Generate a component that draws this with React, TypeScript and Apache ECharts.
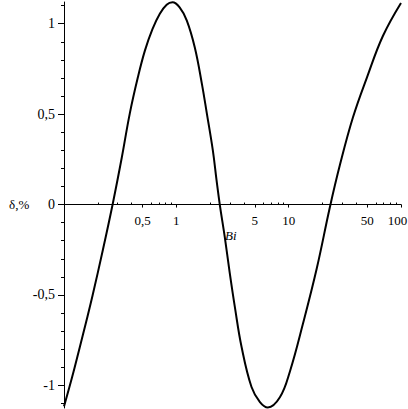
import React, { useEffect, useRef } from "react";
import * as echarts from "echarts";

// curve samples (Bi, δ %)
const biValues = [0.1, 0.118, 0.138, 0.158, 0.18, 0.222, 0.272, 0.327, 0.385, 0.454, 0.525, 0.613, 0.713, 0.82, 0.925, 1.07, 1.24, 1.462, 1.687, 1.87, 2.115, 2.28, 2.44, 2.7, 2.99, 3.32, 3.81, 4.67, 5.55, 6.53, 8.351, 10.26, 13.38, 17.82, 23.27, 28.57, 37.31, 49.71, 68.98, 100];
const deltaValues = [-1.116, -0.955, -0.79, -0.645, -0.5, -0.25, 0.006, 0.26, 0.503, 0.702, 0.851, 0.97, 1.055, 1.105, 1.118, 1.09, 1.017, 0.867, 0.669, 0.503, 0.298, 0.135, -0.003, -0.18, -0.379, -0.567, -0.788, -1.009, -1.092, -1.122, -1.066, -0.923, -0.661, -0.351, -0.015, 0.218, 0.481, 0.702, 0.932, 1.115];

const xTickValues = [0.5, 1, 5, 10, 50, 100];
const xMinorTicks = [0.2, 0.3, 0.4, 0.6, 0.7, 0.8, 0.9, 2, 3, 4, 6, 7, 8, 9, 20, 30, 40, 60, 70, 80, 90];
const yTickValues = [-1, -0.5, 0, 0.5, 1];
const yMinorTicks = [-1.1, -0.9, -0.8, -0.7, -0.6, -0.4, -0.3, -0.2, -0.1, 0.1, 0.2, 0.3, 0.4, 0.6, 0.7, 0.8, 0.9, 1.1];

const Y_MIN = -1.125;
const Y_MAX = 1.12;
const X_MIN = 0.1;
const X_MAX = 100;
const GRID_TOP = 2;
const GRID_BOTTOM = 1;
const H = 409;

const FONT = "'Liberation Serif', 'Times New Roman', serif";
const fmt = (v: number) => String(v).replace(".", ",");

export default function App() {
  const ref = useRef<HTMLDivElement>(null);
  useEffect(() => {
    if (!ref.current) return;
    const chart = echarts.init(ref.current, null, { renderer: "svg" });
    const data = biValues.map((b, i) => [b, deltaValues[i]]);
    const gridH = H - GRID_TOP - GRID_BOTTOM;
    // distance from the grid top to the y = 0 line
    const zeroFromTop = (Y_MAX / (Y_MAX - Y_MIN)) * gridH;
    chart.setOption({
      animation: false,
      backgroundColor: "#fff",
      grid: { left: 64, right: 7, top: GRID_TOP, bottom: GRID_BOTTOM, containLabel: false, outerBoundsMode: "none" },
      xAxis: [
        {
          type: "log",
          logBase: 10,
          min: X_MIN,
          max: X_MAX,
          position: "top",
          offset: -zeroFromTop,
          axisLine: { show: true, onZero: false, lineStyle: { color: "#000", width: 1 } },
          splitLine: { show: false },
          minorTick: { show: false },
          axisTick: { show: true, inside: true, customValues: xTickValues, length: 3, lineStyle: { color: "#000" } },
          axisLabel: {
            show: true,
            inside: true,
            customValues: xTickValues,
            formatter: (v: number) => (v === X_MAX ? `{last|${fmt(v)}}` : fmt(v)),
            rich: { last: { padding: [0, 7, 0, 0], fontFamily: FONT, fontSize: 13, color: "#000" } },
            color: "#000",
            fontFamily: FONT,
            fontSize: 13,
            margin: 9,
            hideOverlap: false,
          },
        },
        {
          type: "log",
          logBase: 10,
          min: X_MIN,
          max: X_MAX,
          position: "top",
          offset: -zeroFromTop,
          axisLine: { show: false, onZero: false },
          splitLine: { show: false },
          axisTick: { show: true, inside: false, customValues: xMinorTicks, length: 2, lineStyle: { color: "#000" } },
          axisLabel: { show: false },
        },
      ],
      yAxis: [
        {
          type: "value",
          min: Y_MIN,
          max: Y_MAX,
          axisLine: { show: true, onZero: false, lineStyle: { color: "#000", width: 1 } },
          splitLine: { show: false },
          axisTick: { show: true, customValues: yTickValues, length: 6, lineStyle: { color: "#000" } },
          axisLabel: {
            show: true,
            customValues: yTickValues,
            formatter: (v: number) => fmt(v),
            color: "#000",
            fontFamily: FONT,
            fontSize: 14,
            margin: 9,
          },
        },
        {
          type: "value",
          min: Y_MIN,
          max: Y_MAX,
          position: "left",
          axisLine: { show: false, onZero: false },
          splitLine: { show: false },
          axisTick: { show: true, customValues: yMinorTicks, length: 3, lineStyle: { color: "#000" } },
          axisLabel: { show: false },
        },
      ],
      graphic: [
        {
          type: "text",
          left: 9,
          top: 198,
          style: { text: "δ,%", fontFamily: FONT, fontSize: 13, fill: "#000" },
        },
        {
          type: "text",
          left: 225,
          top: 229,
          style: { text: "Bi", fontFamily: FONT, fontSize: 13, fontStyle: "italic", fill: "#000" },
        },
      ],
      series: [
        {
          type: "line",
          xAxisIndex: 0,
          yAxisIndex: 0,
          data,
          smooth: 0.4,
          showSymbol: false,
          lineStyle: { color: "#000", width: 2 },
        },
      ],
    });
    return () => chart.dispose();
  }, []);
  return <div ref={ref} style={{ position: "fixed", left: 0, top: 0, width: 408, height: 409 }} />;
}
